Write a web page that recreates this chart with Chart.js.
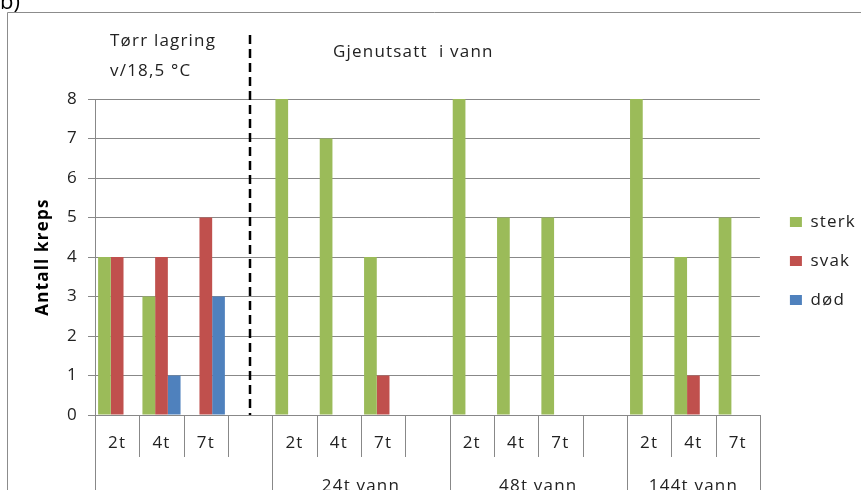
<!DOCTYPE html>
<html>
<head>
<meta charset="utf-8">
<script src="https://cdn.jsdelivr.net/npm/chart.js@4"></script>
<style>
  html, body { margin: 0; padding: 0; background: #fff; }
  #wrap { width: 861px; height: 490px; position: relative; }
</style>
</head>
<body>
<div id="wrap"><canvas id="chart" width="861" height="490"></canvas></div>
<script>
// inner category labels (blank slots are the gaps between groups)
const categories = ["2t", "4t", "7t", "", "2t", "4t", "7t", "", "2t", "4t", "7t", "", "2t", "4t", "7t"]
// outer level: label + first/last category index
const groupLabels = ["", "24t vann", "48t vann", "144t vann"]
const groupStart = [0, 4, 8, 12]
const groupEnd = [3, 7, 11, 14]

const sterk = [4, 3, 0, null, 8, 7, 4, null, 8, 5, 5, null, 8, 4, 5]
const svak = [4, 4, 5, null, 0, 0, 1, null, 0, 0, 0, null, 0, 1, 0]
const dod = [0, 1, 3, null, 0, 0, 0, null, 0, 0, 0, null, 0, 0, 0]

const yTicks = [0, 1, 2, 3, 4, 5, 6, 7, 8]
const dividerAt = 3 // dashed line sits in the blank slot after the dry-storage group

const font = "'Open Sans', Lato, sans-serif"
const textColor = "#222"
const lineColor = "#888"
const spacing = "1.2px" // the Excel text in the picture is set a bit loose

const decorations = {
  id: "decorations",
  beforeDraw(chart) {
    const ctx = chart.ctx
    ctx.save()
    ctx.fillStyle = "#fff"
    ctx.fillRect(0, 0, chart.width, chart.height)
    // outer frame
    ctx.strokeStyle = "#8c8c8c"
    ctx.lineWidth = 1
    ctx.beginPath()
    ctx.moveTo(7.5, chart.height)
    ctx.lineTo(7.5, 12.5)
    ctx.lineTo(chart.width, 12.5)
    ctx.stroke()
    ctx.fillStyle = "#000"
    ctx.font = "22px " + font
    ctx.textBaseline = "alphabetic"
    ctx.fillText("b)", 0, 9)
    ctx.restore()
    ctx.letterSpacing = spacing
  },
  afterDraw(chart) {
    const ctx = chart.ctx
    const x = chart.scales.x
    const y = chart.scales.y
    const base = y.getPixelForValue(0)
    const half = (x.getPixelForValue(1) - x.getPixelForValue(0)) / 2
    ctx.save()
    ctx.letterSpacing = spacing
    ctx.strokeStyle = lineColor
    ctx.lineWidth = 1
    // inner separators, group edges run to the bottom
    for (let i = 0; i <= categories.length; i++) {
      const px = Math.round(x.getPixelForValue(i) - half) + 0.5
      const isGroupEdge = groupStart.includes(i) || i === categories.length
      ctx.beginPath()
      ctx.moveTo(px, base)
      ctx.lineTo(px, isGroupEdge ? chart.height : base + 42)
      ctx.stroke()
    }
    ctx.fillStyle = textColor
    ctx.font = "17px " + font
    ctx.textAlign = "center"
    ctx.textBaseline = "alphabetic"
    categories.forEach((c, i) => {
      if (c) ctx.fillText(c, x.getPixelForValue(i), base + 33)
    })
    groupLabels.forEach((g, k) => {
      if (!g) return
      const cx = (x.getPixelForValue(groupStart[k]) + x.getPixelForValue(groupEnd[k])) / 2
      ctx.fillText(g, cx, base + 76)
    })
    // dashed divider
    const dx = Math.round(x.getPixelForValue(dividerAt))
    ctx.strokeStyle = "#000"
    ctx.lineWidth = 2.5
    ctx.setLineDash([9, 5])
    ctx.beginPath()
    ctx.moveTo(dx, 35)
    ctx.lineTo(dx, base)
    ctx.stroke()
    ctx.setLineDash([])
    // annotations
    ctx.textAlign = "left"
    ctx.fillText("Tørr lagring", 110, 46)
    ctx.fillText("v/18,5 °C", 110, 76)
    ctx.fillText("Gjenutsatt  i vann", 333, 57)
    ctx.restore()
  }
}

new Chart("chart", {
  type: "bar",
  data: {
    labels: categories,
    datasets: [
      { label: "sterk", data: sterk, backgroundColor: "#9BBB59" },
      { label: "svak", data: svak, backgroundColor: "#C0504D" },
      { label: "død", data: dod, backgroundColor: "#4F81BD" }
    ]
  },
  options: {
    responsive: false,
    animation: false,
    layout: { padding: { left: 7, top: 99, bottom: 67, right: 1 } },
    datasets: { bar: { categoryPercentage: 0.86, barPercentage: 1 } },
    plugins: {
      legend: {
        position: "right",
        labels: {
          boxWidth: 12,
          boxHeight: 10,
          padding: 22,
          color: textColor,
          font: { family: font, size: 17 }
        }
      },
      tooltip: { enabled: false }
    },
    scales: {
      x: {
        ticks: { display: false },
        grid: { display: false },
        border: { color: lineColor }
      },
      y: {
        min: 0,
        max: 8,
        afterBuildTicks(scale) {
          scale.ticks = yTicks.map(v => ({ value: v }))
        },
        afterFit(scale) {
          scale.width = 88
        },
        ticks: { color: textColor, padding: 10, font: { family: font, size: 17 } },
        grid: { color: lineColor, tickLength: 7 },
        border: { color: lineColor },
        title: {
          display: true,
          text: "Antall kreps",
          color: "#000",
          padding: { top: 26, bottom: 4 },
          font: { family: font, size: 17, weight: "bold" }
        }
      },
      // empty right-hand axis, only keeps a gap between plot and legend
      gap: {
        position: "right",
        ticks: { display: false },
        grid: { display: false },
        border: { display: false },
        afterFit(scale) {
          scale.width = 8
        }
      }
    }
  },
  plugins: [decorations]
})
</script>
</body>
</html>
